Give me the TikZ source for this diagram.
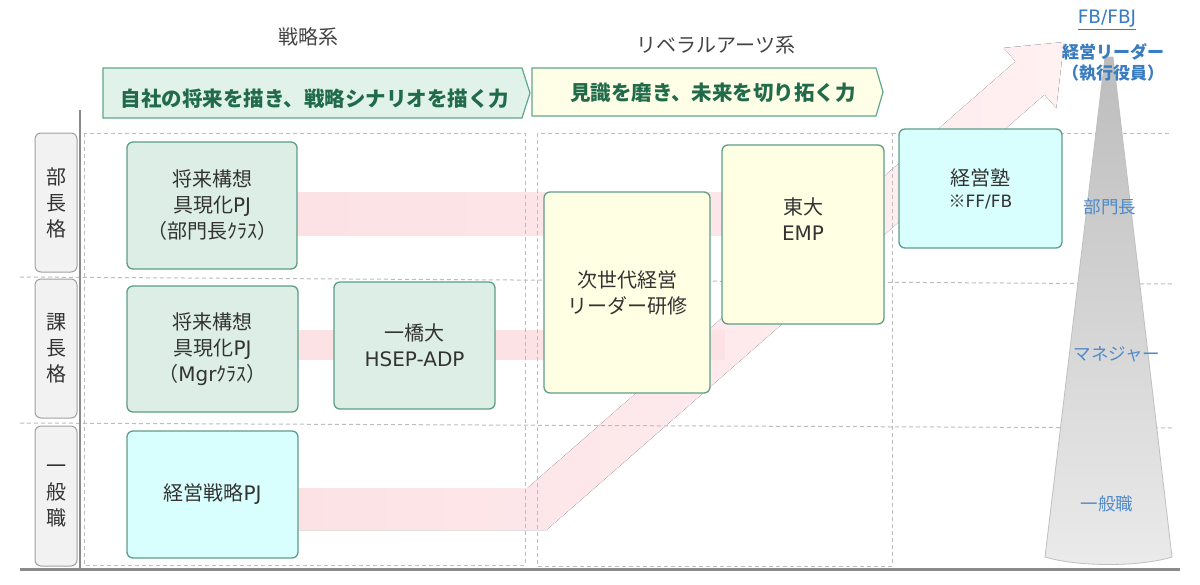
\documentclass[tikz,border=0pt]{standalone}
\usepackage{fontspec}
\setmainfont{Noto Sans CJK JP}
\newfontfamily\lat{DejaVu Sans}
\definecolor{boxline}{HTML}{5E9E88}
\definecolor{gfill}{HTML}{DCEEE6}
\definecolor{cfill}{HTML}{D9FEFE}
\definecolor{yfill}{HTML}{FFFFE3}
\definecolor{bgfill}{HTML}{E0F2EA}
\definecolor{byfill}{HTML}{FFFFE8}
\definecolor{bline}{HTML}{5FA88A}
\definecolor{btext}{HTML}{216B4B}
\definecolor{txt}{HTML}{333333}
\definecolor{ttl}{HTML}{444444}
\definecolor{dashc}{HTML}{BDBDBD}
\definecolor{rlfill}{HTML}{F2F2F2}
\definecolor{rlline}{HTML}{A0A0A0}
\definecolor{blueA}{HTML}{3A7CC0}
\definecolor{blueB}{HTML}{4F8AC9}
\definecolor{pinkA}{HTML}{FCE2E5}
\definecolor{pinkB}{HTML}{FFF0F2}
\definecolor{axisc}{HTML}{8A8A8A}
\begin{document}
\begin{tikzpicture}[x=1pt,y=-1pt,
  prog/.style={draw=boxline, line width=1.3pt, rounded corners=6pt, align=center,
    text=txt, inner sep=0pt, font=\fontsize{20}{26}\selectfont},
  greenbox/.style={prog, fill=gfill},
  cyanbox/.style={prog, fill=cfill},
  yellowbox/.style={prog, fill=yfill},
  rowlabel/.style={draw=rlline, line width=1pt, fill=rlfill, rounded corners=6pt,
    minimum width=42pt, align=center, text=txt, inner sep=0pt,
    font=\fontsize{20}{26}\selectfont},
  grid/.style={draw=dashc, line width=1pt, dash pattern=on 4pt off 3pt},
  banner/.style={draw=bline, line width=1.2pt},
  bannertext/.style={text=btext, font=\fontsize{20.5}{24}\selectfont\bfseries},
  title/.style={text=ttl, font=\fontsize{20}{24}\selectfont},
  pyrlabel/.style={text=blueB, font=\fontsize{17.5}{20}\selectfont},
  toplabel/.style={text=blueA, font=\fontsize{17}{21}\selectfont\bfseries, align=center}
]
\useasboundingbox (0,0) rectangle (1200,584);
\fill[white] (0,0) rectangle (1200,584);

% pink growth arrow
\fill[left color=pinkA, right color=pinkB]
  (297,488) -- (527.5,488) -- (1015.5,61.4) -- (1003.7,47.9) -- (1064,42)
  -- (1056.3,108.1) -- (1044.5,94.6) -- (546.5,530) -- (297,530) -- cycle;
\fill[left color=pinkA, right color=pinkA!60!pinkB] (297,192) rectangle (880,235);
\fill[pinkA] (298,330) rectangle (725,360);

% dashed grid
\draw[grid] (84,133) rectangle (525,565);
\draw[grid] (537,133) rectangle (892,566);
\draw[grid] (892,133) -- (1172,133);
\draw[grid] (20,277) -- (1172,284);
\draw[grid] (20,423) -- (1172,428);

% axes
\draw[axisc, line width=2.5pt] (80,110) -- (80,568);
\draw[axisc, line width=3pt] (20,569.5) -- (1180,569.5);

% pyramid
\shade[top color=black!26, bottom color=black!8, draw=black!25, line width=0.8pt]
  (1105,57) -- (1113,57) -- (1172,557) .. controls (1140,567) and (1078,567) .. (1045,557) -- cycle;

% titles
\node[title] (t1) at (308,37) {戦略系};
\node[title] (t2) at (716,45) {リベラルアーツ系};

% banners
\filldraw[banner, fill=bgfill] (103,68) -- (522,68) -- (530,93) -- (522,118) -- (103,118) -- cycle;
\node[bannertext] (bt1) at (315,99) {自社の将来を描き、戦略シナリオを描く力};
\filldraw[banner, fill=byfill] (532,68) -- (876,68) -- (883,92) -- (876,116) -- (532,116) -- cycle;
\node[bannertext] (bt2) at (713,93) {見識を磨き、未来を切り拓く力};

% row labels
\node[rowlabel, minimum height=139pt] (r1) at (56,202.5) {部\\長\\格};
\node[rowlabel, minimum height=139pt] (r2) at (56,348.5) {課\\長\\格};
\node[rowlabel, minimum height=140pt] (r3) at (56,496) {一\\般\\職};

% programme boxes
\node[greenbox, minimum width=170pt, minimum height=127pt] (a1) at (212,205.5)
  {将来構想\\具現化{\lat PJ}\\（部門長ｸﾗｽ）};
\node[greenbox, minimum width=171pt, minimum height=126pt] (a2) at (212.5,349)
  {将来構想\\具現化{\lat PJ}\\（{\lat Mgr}ｸﾗｽ）};
\node[greenbox, minimum width=161pt, minimum height=127pt] (a3) at (414.5,345.5)
  {一橋大\\{\lat HSEP-ADP}};
\node[cyanbox, minimum width=171pt, minimum height=127pt] (a4) at (212.5,494.5)
  {経営戦略{\lat PJ}};
\node[yellowbox, minimum width=166pt, minimum height=201pt] (b1) at (627,292.5)
  {次世代経営\\リーダー研修};
\node[yellowbox, minimum width=162pt, minimum height=179pt] (b2) at (803,234.5)
  {東大\\{\lat EMP}\\[4pt]};
\node[cyanbox, minimum width=163pt, minimum height=119pt] (c1) at (980.5,188.5)
  {経営塾\\[-4pt]{\fontsize{17}{20}\selectfont ※{\lat FF/FB}}};

% pyramid labels
\node[pyrlabel] (p1) at (1110,207) {部門長};
\node[pyrlabel] (p2) at (1117,354) {マネジャー};
\node[pyrlabel] (p3) at (1107,504) {一般職};
\node[text=blueA, font=\fontsize{18.5}{22}\selectfont\lat] (fb) at (1107,20) {\underline{FB/FBJ}};
\node[toplabel] (top) at (1113,63) {経営リーダー\\（執行役員）};
\end{tikzpicture}
\end{document}
